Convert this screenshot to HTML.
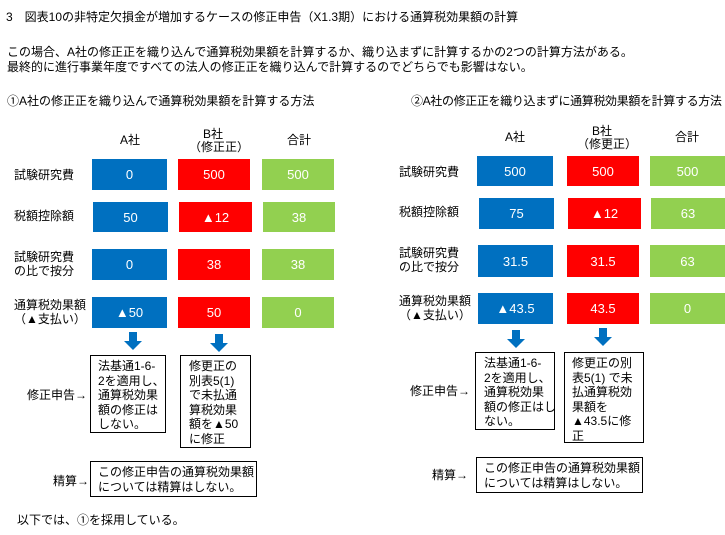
<!DOCTYPE html>
<html><head><meta charset="utf-8"><style>
body{margin:0;width:725px;height:535px;background:#fff;position:relative;overflow:hidden;font-family:"Liberation Sans","Noto Sans CJK JP",sans-serif;font-size:12px;color:#000}
.t{position:absolute;white-space:nowrap;line-height:14px}
.b{position:absolute;color:#fff;display:flex;align-items:center;justify-content:center;font-size:13px}
.bl{background:#0070c0}.rd{background:#ff0000}.gr{background:#92d050}
.box{position:absolute;border:1px solid #000;box-sizing:border-box;padding:3px 0 0 10px;line-height:14.5px;font-size:12px;white-space:nowrap;overflow:hidden}
.ar{position:absolute;width:18px;height:18px}
</style></head><body>
<div class="t" style="left:6px;top:10px">3　図表10の非特定欠損金が増加するケースの修正申告（X1.3期）における通算税効果額の計算</div>
<div class="t" style="left:7px;top:45px">この場合、A社の修正正を織り込んで通算税効果額を計算するか、織り込まずに計算するかの2つの計算方法がある。</div>
<div class="t" style="left:7px;top:60px">最終的に進行事業年度ですべての法人の修正正を織り込んで計算するのでどちらでも影響はない。</div>

<div class="t" style="left:7px;top:94px">①A社の修正正を織り込んで通算税効果額を計算する方法</div>
<div class="t" style="left:120px;top:133px">A社</div>
<div class="t" style="left:203px;top:127px">B社</div>
<div class="t" style="left:189px;top:140px">（修正正）</div>
<div class="t" style="left:287px;top:133px">合計</div>
<div class="t" style="left:14px;top:168px">試験研究費</div>
<div class="t" style="left:14px;top:209px">税額控除額</div>
<div class="t" style="left:14px;top:250px">試験研究費<br>の比で按分</div>
<div class="t" style="left:14px;top:298px">通算税効果額<br>（▲支払い）</div>
<div class="b bl" style="left:92px;top:159px;width:75px;height:31px">0</div>
<div class="b rd" style="left:178px;top:159px;width:72px;height:31px">500</div>
<div class="b gr" style="left:262px;top:159px;width:72px;height:31px">500</div>
<div class="b bl" style="left:93px;top:202px;width:75px;height:30px">50</div>
<div class="b rd" style="left:179px;top:202px;width:73px;height:30px">▲12</div>
<div class="b gr" style="left:263px;top:202px;width:72px;height:30px">38</div>
<div class="b bl" style="left:92px;top:249px;width:75px;height:31px">0</div>
<div class="b rd" style="left:178px;top:249px;width:72px;height:31px">38</div>
<div class="b gr" style="left:262px;top:249px;width:72px;height:31px">38</div>
<div class="b bl" style="left:92px;top:297px;width:75px;height:31px">▲50</div>
<div class="b rd" style="left:178px;top:297px;width:72px;height:31px">50</div>
<div class="b gr" style="left:262px;top:297px;width:72px;height:31px">0</div>
<svg class="ar" style="left:124px;top:332px" viewBox="0 0 18 18"><path d="M5 0H13V9H18L9 18L0 9H5Z" fill="#0070c0"/></svg>
<svg class="ar" style="left:210px;top:334px" viewBox="0 0 18 18"><path d="M5 0H13V9H18L9 18L0 9H5Z" fill="#0070c0"/></svg>
<div class="t" style="left:27px;top:388px">修正申告→</div>
<div class="box" style="left:90px;top:355px;width:76px;height:78px;padding-left:7px">法基通1-6-<br>2を適用し、<br>通算税効果<br>額の修正は<br>しない。</div>
<div class="box" style="left:180px;top:355px;width:71px;height:93px;padding-left:8px">修更正の<br>別表5(1)<br>で未払通<br>算税効果<br>額を▲50<br>に修正</div>
<div class="t" style="left:53px;top:474px">精算→</div>
<div class="box" style="left:90px;top:461px;width:167px;height:36px;padding-left:7px">この修正申告の通算税効果額<br>については精算はしない。</div>
<div class="t" style="left:17px;top:513px">以下では、①を採用している。</div>

<div class="t" style="left:411px;top:94px;letter-spacing:-0.35px">②A社の修正正を織り込まずに通算税効果額を計算する方法</div>
<div class="t" style="left:505px;top:130px">A社</div>
<div class="t" style="left:592px;top:124px">B社</div>
<div class="t" style="left:577px;top:137px">（修更正）</div>
<div class="t" style="left:675px;top:130px">合計</div>
<div class="t" style="left:399px;top:165px">試験研究費</div>
<div class="t" style="left:399px;top:205px">税額控除額</div>
<div class="t" style="left:399px;top:246px">試験研究費<br>の比で按分</div>
<div class="t" style="left:399px;top:294px">通算税効果額<br>（▲支払い）</div>
<div class="b bl" style="left:477px;top:156px;width:76px;height:30px">500</div>
<div class="b rd" style="left:567px;top:156px;width:72px;height:30px">500</div>
<div class="b gr" style="left:650px;top:156px;width:75px;height:30px">500</div>
<div class="b bl" style="left:479px;top:198px;width:75px;height:31px">75</div>
<div class="b rd" style="left:568px;top:198px;width:73px;height:31px">▲12</div>
<div class="b gr" style="left:651px;top:198px;width:74px;height:31px">63</div>
<div class="b bl" style="left:478px;top:245px;width:75px;height:32px">31.5</div>
<div class="b rd" style="left:567px;top:245px;width:72px;height:32px">31.5</div>
<div class="b gr" style="left:650px;top:245px;width:75px;height:32px">63</div>
<div class="b bl" style="left:478px;top:293px;width:75px;height:31px">▲43.5</div>
<div class="b rd" style="left:567px;top:293px;width:72px;height:31px">43.5</div>
<div class="b gr" style="left:650px;top:293px;width:75px;height:31px">0</div>
<svg class="ar" style="left:507px;top:330px" viewBox="0 0 18 18"><path d="M5 0H13V9H18L9 18L0 9H5Z" fill="#0070c0"/></svg>
<svg class="ar" style="left:594px;top:328px" viewBox="0 0 18 18"><path d="M5 0H13V9H18L9 18L0 9H5Z" fill="#0070c0"/></svg>
<div class="t" style="left:410px;top:384px">修正申告→</div>
<div class="box" style="left:475px;top:352px;width:80px;height:78px;padding-left:8px">法基通1-6-<br>2を適用し、<br>通算税効果<br>額の修正はし<br>ない。</div>
<div class="box" style="left:564px;top:352px;width:80px;height:91px;padding-left:7px">修更正の別<br>表5(1) で未<br>払通算税効<br>果額を<br>▲43.5に修<br>正</div>
<div class="t" style="left:432px;top:468px">精算→</div>
<div class="box" style="left:476px;top:457px;width:167px;height:36px;padding-left:7px">この修正申告の通算税効果額<br>については精算はしない。</div>
</body></html>
